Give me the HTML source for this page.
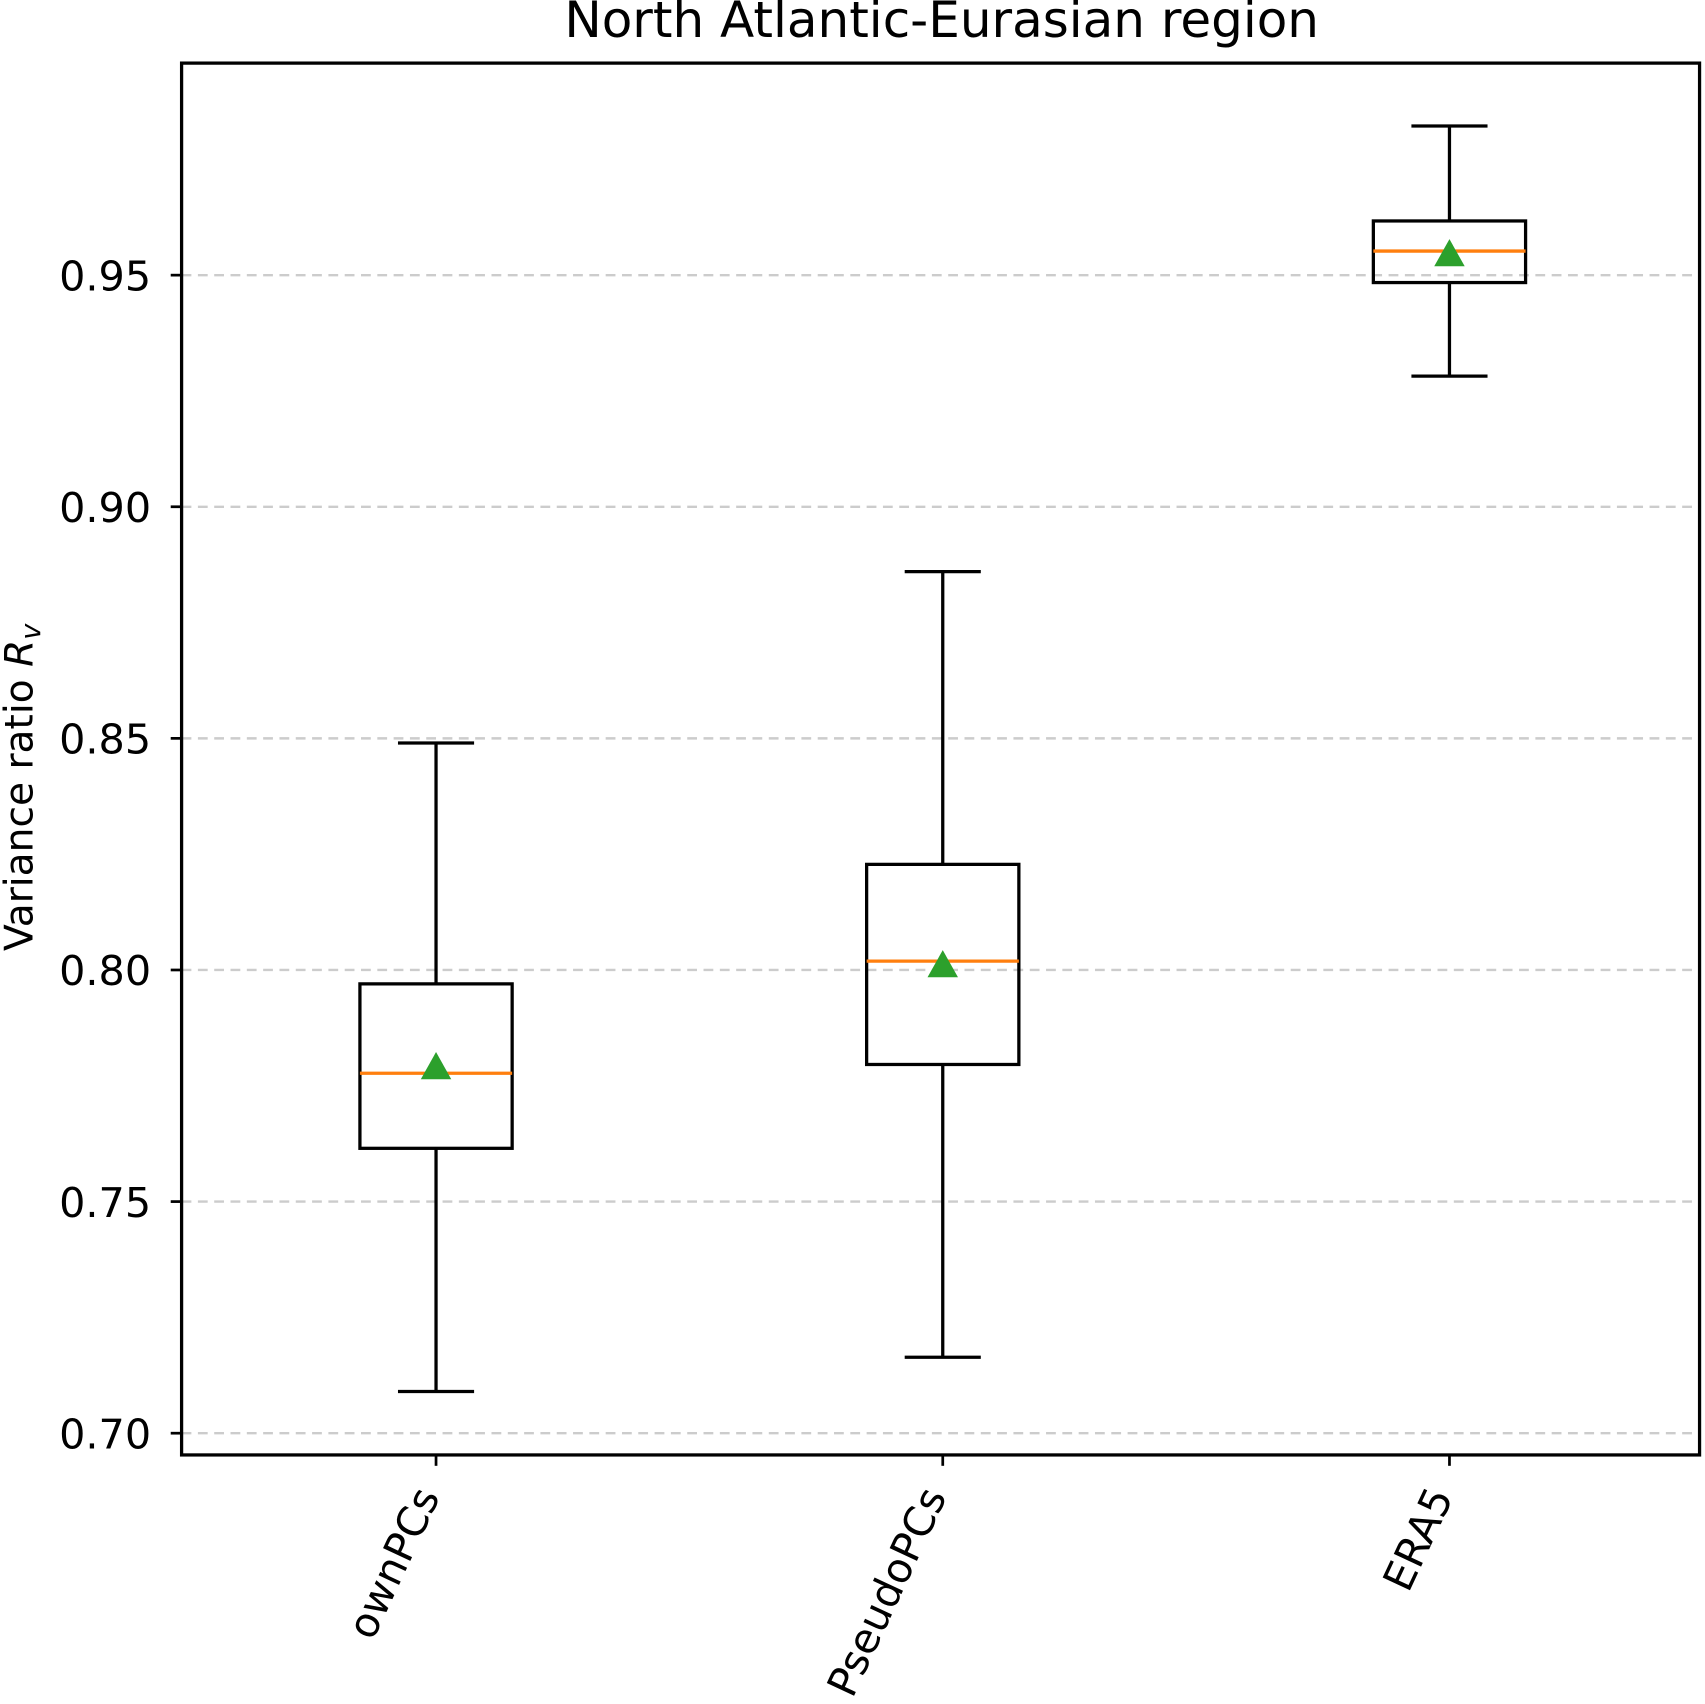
<!DOCTYPE html>
<html><head><meta charset="utf-8"><style>html,body{margin:0;padding:0;background:#fff}svg{display:block}</style></head>
<body>
<svg id="chart" width="1705" height="1704" viewBox="0 0 1568 1567" xmlns="http://www.w3.org/2000/svg" font-family="'DejaVu Sans','Liberation Sans',sans-serif">
<rect width="1568" height="1567" fill="#fff"/>
<text x="866" y="34" font-size="46" text-anchor="middle">North Atlantic-Eurasian region</text>
<g id="grid"></g>
<g id="marks"></g>
<rect x="167" y="58" width="1396" height="1280" fill="none" stroke="#000" stroke-width="3"/>
<g id="yaxis"></g>
<g id="xaxis"></g>
<text transform="translate(30,724) rotate(-90)" font-size="36" text-anchor="middle">Variance ratio <tspan font-style="italic">R</tspan><tspan font-style="italic" font-size="25" dy="7">v</tspan></text>
</svg>
<script>
const categories = ["ownPCs","PseudoPCs","ERA5"];
const whiskerLow = [0.709, 0.7164, 0.9282];
const q1 = [0.7615, 0.7796, 0.9484];
const medians = [0.7777, 0.8019, 0.9552];
const q3 = [0.797, 0.8228, 0.9617];
const whiskerHigh = [0.849, 0.886, 0.9822];
const means = [0.779, 0.801, 0.9545];
const yTicks = [0.70, 0.75, 0.80, 0.85, 0.90, 0.95];
const yTickLabels = ["0.70","0.75","0.80","0.85","0.90","0.95"];

const NS="http://www.w3.org/2000/svg";
function y(v){return 1318-(v-0.7)*4260;}
function x(i){return 401+i*466;}
function mk(tag,attrs,parent){const e=document.createElementNS(NS,tag);for(const k in attrs)e.setAttribute(k,attrs[k]);parent.appendChild(e);return e;}
const grid=document.getElementById('grid'),marks=document.getElementById('marks'),ya=document.getElementById('yaxis'),xa=document.getElementById('xaxis');
yTicks.forEach((t,i)=>{
  const g=mk('line',{x1:167,x2:1563,y1:y(t),y2:y(t),stroke:'#ccc','stroke-width':2.2,'stroke-dasharray':'9,6'},grid);
  
  
  const tk=mk('line',{x1:157,x2:167,y1:y(t),y2:y(t),stroke:'#000','stroke-width':2.5},ya);
  
  
  const tx=mk('text',{x:139,y:y(t)+14,'font-size':38,'text-anchor':'end'},ya);
  tx.textContent=yTickLabels[i];
  
  
});
categories.forEach((c,i)=>{
  const cx=x(i);
  const g=mk('g',{},marks);
  
  
  const L={stroke:'#000','stroke-width':3,fill:'none'};
  mk('line',Object.assign({x1:cx,x2:cx,y1:y(whiskerLow[i]),y2:y(q1[i])},L),g);
  mk('line',Object.assign({x1:cx,x2:cx,y1:y(q3[i]),y2:y(whiskerHigh[i])},L),g);
  mk('line',Object.assign({x1:cx-35,x2:cx+35,y1:y(whiskerLow[i]),y2:y(whiskerLow[i])},L),g);
  mk('line',Object.assign({x1:cx-35,x2:cx+35,y1:y(whiskerHigh[i]),y2:y(whiskerHigh[i])},L),g);
  mk('rect',Object.assign({x:cx-70,y:y(q3[i]),width:140,height:y(q1[i])-y(q3[i])},L),g);
  const m=mk('line',{x1:cx-70,x2:cx+70,y1:y(medians[i]),y2:y(medians[i]),stroke:'#ff7f0e','stroke-width':3},g);
  
  
  const my=y(means[i]);
  const tr=mk('polygon',{points:`${cx-14},${my+11} ${cx+14},${my+11} ${cx},${my-14}`,fill:'#2ca02c'},g);
  
  
  const tk=mk('line',{x1:cx,x2:cx,y1:1338,y2:1348,stroke:'#000','stroke-width':2.5},xa);
  
  
  const tx=mk('text',{transform:`translate(${cx+4},1376) rotate(-65)`,'font-size':38,'text-anchor':'end'},xa);
  tx.textContent=c;
  
  
});
</script>
</body></html>
